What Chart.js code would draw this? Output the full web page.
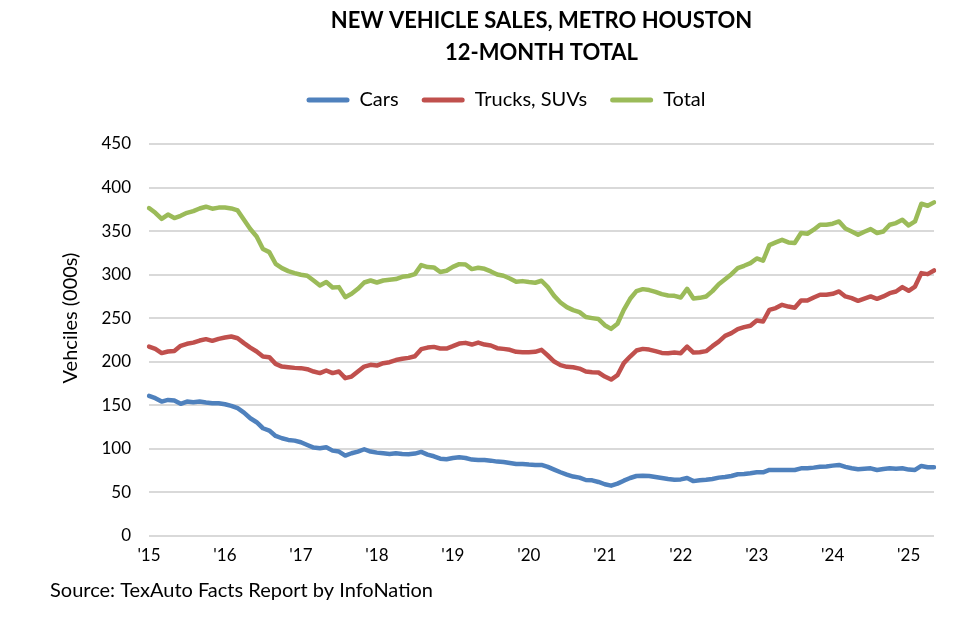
<!DOCTYPE html>
<html>
<head>
<meta charset="utf-8">
<script src="https://cdn.jsdelivr.net/npm/chart.js@4.4.1/dist/chart.umd.min.js"></script>
<style>
html,body{margin:0;padding:0;background:#ffffff;}
#wrap{width:980px;height:622px;position:relative;}
canvas{display:block;}
</style>
</head>
<body>
<div id="wrap"><canvas id="chart" width="980" height="622"></canvas></div>
<script>
// ---------- DATA ----------
const categories = [
  'Jan-15','Feb-15','Mar-15','Apr-15','May-15','Jun-15','Jul-15','Aug-15','Sep-15','Oct-15','Nov-15','Dec-15',
  'Jan-16','Feb-16','Mar-16','Apr-16','May-16','Jun-16','Jul-16','Aug-16','Sep-16','Oct-16','Nov-16','Dec-16',
  'Jan-17','Feb-17','Mar-17','Apr-17','May-17','Jun-17','Jul-17','Aug-17','Sep-17','Oct-17','Nov-17','Dec-17',
  'Jan-18','Feb-18','Mar-18','Apr-18','May-18','Jun-18','Jul-18','Aug-18','Sep-18','Oct-18','Nov-18','Dec-18',
  'Jan-19','Feb-19','Mar-19','Apr-19','May-19','Jun-19','Jul-19','Aug-19','Sep-19','Oct-19','Nov-19','Dec-19',
  'Jan-20','Feb-20','Mar-20','Apr-20','May-20','Jun-20','Jul-20','Aug-20','Sep-20','Oct-20','Nov-20','Dec-20',
  'Jan-21','Feb-21','Mar-21','Apr-21','May-21','Jun-21','Jul-21','Aug-21','Sep-21','Oct-21','Nov-21','Dec-21',
  'Jan-22','Feb-22','Mar-22','Apr-22','May-22','Jun-22','Jul-22','Aug-22','Sep-22','Oct-22','Nov-22','Dec-22',
  'Jan-23','Feb-23','Mar-23','Apr-23','May-23','Jun-23','Jul-23','Aug-23','Sep-23','Oct-23','Nov-23','Dec-23',
  'Jan-24','Feb-24','Mar-24','Apr-24','May-24','Jun-24','Jul-24','Aug-24','Sep-24','Oct-24','Nov-24','Dec-24',
  'Jan-25','Feb-25','Mar-25','Apr-25','May-25'
];

const yearTickLabels = ["'15","'16","'17","'18","'19","'20","'21","'22","'23","'24","'25"];

const cars = [
  160.8,158.2,154.3,156.2,155.5,151.7,154.3,153.6,154.3,153.2,152.4,152.4,
  151.3,149.4,146.7,141.7,135.2,130.6,123.7,121.0,114.9,112.2,110.3,109.5,
  107.6,104.5,101.5,100.8,101.9,98.0,96.9,92.3,95.0,96.9,99.6,96.9,
  95.7,95.0,94.2,95.0,94.2,93.8,94.6,96.5,93.4,91.5,88.8,88.1,
  89.6,90.4,89.6,87.7,87.3,87.3,86.5,85.4,85.0,83.9,82.7,82.7,
  82.0,81.6,81.6,79.3,76.2,73.2,70.5,68.2,67.0,64.3,63.9,62.0,
  59.4,57.8,60.1,63.5,66.6,68.9,69.3,68.9,67.8,66.6,65.5,64.7,
  65.0,66.5,63.0,64.0,64.5,65.5,67.0,67.8,68.9,70.9,71.2,72.0,
  73.1,73.1,75.8,75.8,75.8,75.8,75.8,77.7,77.7,78.5,79.6,79.9,
  80.8,81.6,79.3,77.7,76.6,77.3,77.7,75.8,77.0,77.7,77.3,77.7,
  76.2,75.8,80.4,78.9,78.9
];

const trucksSUVs = [
  217.5,214.8,210.0,211.8,212.5,218.3,220.6,222.0,224.4,226.0,224.0,226.3,
  227.8,229.0,227.0,221.4,216.3,211.8,206.0,205.3,197.6,194.5,193.8,193.0,
  192.7,191.5,188.8,187.0,190.0,187.0,188.8,181.2,183.0,188.8,194.5,196.5,
  195.7,198.4,199.5,202.0,203.4,204.5,206.4,214.5,216.3,217.1,215.2,215.2,
  217.9,220.9,221.7,219.8,222.1,219.8,218.7,215.6,214.8,213.7,211.4,211.0,
  211.0,211.4,213.7,207.2,200.3,196.1,194.2,193.8,192.2,188.8,188.1,187.7,
  183.0,179.6,184.6,198.4,206.0,212.9,214.8,214.0,212.2,210.2,209.9,210.6,
  209.9,217.5,210.6,211.0,212.2,217.9,223.2,229.8,232.9,237.5,239.8,241.3,
  247.4,246.2,259.6,261.6,265.4,263.4,262.0,270.3,270.3,273.8,276.9,276.9,
  278.0,280.7,275.0,273.0,270.0,272.6,275.0,272.3,275.0,278.8,280.7,285.7,
  281.5,286.4,301.8,300.6,304.8
];

const total = [
  376.5,371.0,364.0,369.0,365.0,367.6,371.0,373.0,376.0,378.0,375.7,377.0,
  377.0,376.0,373.7,363.0,352.4,343.9,329.4,325.9,312.5,307.5,304.1,301.8,
  299.9,298.7,293.3,287.6,291.5,285.3,285.7,274.2,278.0,283.8,291.0,293.3,
  291.0,293.3,294.1,294.9,297.5,298.5,300.6,311.0,308.7,308.3,303.0,304.5,
  309.0,312.1,311.7,306.4,307.9,306.7,303.7,300.2,298.7,295.6,291.8,292.6,
  291.5,290.7,293.0,285.7,275.7,268.0,262.7,259.3,257.0,251.3,250.1,249.0,
  242.0,237.8,243.6,259.6,272.3,281.1,283.4,282.3,280.3,277.7,276.1,275.7,
  273.8,283.8,272.6,273.4,275.0,281.1,289.1,294.8,300.6,307.5,310.2,313.2,
  318.6,316.0,334.0,337.0,340.0,337.0,336.3,347.8,347.0,351.6,357.3,357.3,
  358.5,361.1,353.0,349.6,345.8,349.3,352.3,347.8,349.6,357.3,359.2,363.0,
  356.5,361.1,381.4,379.1,383.0
];

const seriesNames = ['Cars', 'Trucks, SUVs', 'Total'];
const titleLines = ['NEW VEHICLE SALES, METRO HOUSTON', '12-MONTH TOTAL'];
const yAxisTitle = 'Vehciles (000s)';
const sourceText = 'Source: TexAuto Facts Report by InfoNation';

// ---------- STYLE ----------
const FONT = 'Lato, "Open Sans", "Liberation Sans", sans-serif';
const colors = ['#4F81BD', '#C0504D', '#9BBB59'];

const textPlugin = {
  id: 'extraText',
  beforeInit(chart) {
    const lg = chart.legend;
    if (lg) {
      const origFit = lg.fit;
      lg.fit = function () {
        origFit.bind(lg)();
        this.height += 24;
      };
    }
  },
  afterDraw(chart) {
    const ctx = chart.ctx;
    const ca = chart.chartArea;
    ctx.save();
    ctx.fillStyle = '#000000';
    ctx.textBaseline = 'middle';
    // main title
    ctx.font = 'bold 22px ' + FONT;
    ctx.textAlign = 'center';
    const cx = (ca.left + ca.right) / 2;
    ctx.fillText(titleLines[0], cx, 21);
    ctx.fillText(titleLines[1], cx, 53);
    // y axis title
    ctx.font = '20px ' + FONT;
    ctx.save();
    ctx.translate(71, 318);
    ctx.rotate(-Math.PI / 2);
    ctx.textAlign = 'center';
    ctx.fillText(yAxisTitle, 0, 0);
    ctx.restore();
    // source
    ctx.font = '20px ' + FONT;
    ctx.textAlign = 'left';
    ctx.fillText(sourceText, 50, 591);
    ctx.restore();
  }
};

const makeDs = (label, data, color) => ({
  label: label,
  data: data,
  borderColor: color,
  backgroundColor: color,
  borderWidth: 4.5,
  pointRadius: 0,
  pointHoverRadius: 0,
  tension: 0,
  fill: false,
  borderCapStyle: 'round',
  borderJoinStyle: 'round'
});

new Chart(document.getElementById('chart'), {
  type: 'line',
  data: {
    labels: categories,
    datasets: [
      makeDs(seriesNames[0], cars, colors[0]),
      makeDs(seriesNames[1], trucksSUVs, colors[1]),
      makeDs(seriesNames[2], total, colors[2])
    ]
  },
  options: {
    responsive: false,
    animation: false,
    devicePixelRatio: 1,
    layout: { padding: { left: 78, right: 46, top: 67, bottom: 56 } },
    plugins: {
      title: { display: false },
      tooltip: { enabled: false },
      legend: {
        display: true,
        position: 'top',
        align: 'center',
        labels: {
          boxWidth: 43,
          boxHeight: 5,
          padding: 23,
          useBorderRadius: true,
          borderRadius: 2.5,
          color: '#000000',
          font: { family: FONT, size: 20 },
          generateLabels(chart) {
            const items = Chart.defaults.plugins.legend.labels.generateLabels(chart);
            return items.map((it, i) => Object.assign(it, {
              fillStyle: colors[i],
              strokeStyle: colors[i],
              lineWidth: 0
            }));
          }
        }
      }
    },
    scales: {
      x: {
        type: 'category',
        offset: false,
        grid: { display: false, drawTicks: false },
        border: { display: false },
        afterFit(scale) { scale.height = 30; },
        ticks: {
          autoSkip: false,
          maxRotation: 0,
          minRotation: 0,
          padding: 9,
          color: '#000000',
          font: { family: FONT, size: 17 },
          callback(value, index) {
            return index % 12 === 0 ? yearTickLabels[index / 12] : null;
          }
        }
      },
      y: {
        min: 0,
        max: 450,
        afterFit(scale) { scale.width = 71; },
        grid: { color: '#D9D9D9', lineWidth: 2, drawTicks: false },
        border: { display: false },
        ticks: {
          stepSize: 50,
          padding: 18,
          color: '#000000',
          font: { family: FONT, size: 17 }
        }
      }
    }
  },
  plugins: [textPlugin]
});
</script>
</body>
</html>
